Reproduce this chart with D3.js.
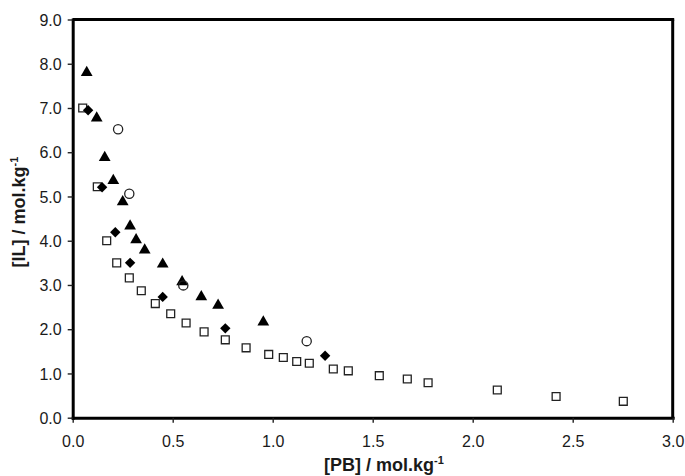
<!DOCTYPE html>
<html>
<head>
<meta charset="utf-8">
<script src="https://cdn.jsdelivr.net/npm/d3@7"></script>
<style>
  html, body { margin: 0; padding: 0; background: #fff; }
  svg { display: block; }
  text { font-family: "Liberation Sans", Arial, sans-serif; fill: #1a1a1a; }
</style>
</head>
<body>
<svg id="chart" width="685" height="476"></svg>
<script>
// Axis ticks
const xTicks = [0, 0.5, 1.0, 1.5, 2.0, 2.5, 3.0];
const yTicks = [0, 1, 2, 3, 4, 5, 6, 7, 8, 9];

// Open squares
const squareX = [0.05, 0.123, 0.17, 0.22, 0.283, 0.343, 0.413, 0.49, 0.567, 0.657, 0.763, 0.867, 0.98, 1.053, 1.12, 1.183, 1.303, 1.378, 1.533, 1.673, 1.777, 2.123, 2.417, 2.753];
const squareY = [7.0, 5.22, 4.0, 3.50, 3.16, 2.87, 2.58, 2.35, 2.14, 1.94, 1.76, 1.58, 1.43, 1.36, 1.27, 1.23, 1.10, 1.06, 0.95, 0.875, 0.79, 0.626, 0.48, 0.37];

// Filled diamonds
const diamondX = [0.077, 0.147, 0.213, 0.287, 0.45, 0.763, 1.262];
const diamondY = [6.95, 5.21, 4.19, 3.50, 2.73, 2.02, 1.40];

// Filled triangles
const triangleX = [0.07, 0.12, 0.16, 0.203, 0.25, 0.287, 0.317, 0.36, 0.45, 0.547, 0.643, 0.727, 0.953];
const triangleY = [7.80, 6.77, 5.88, 5.36, 4.88, 4.33, 4.02, 3.79, 3.47, 3.07, 2.73, 2.54, 2.16];

// Open circles
const circleX = [0.227, 0.283, 0.553, 1.17];
const circleY = [6.52, 5.06, 2.99, 1.73];

const svg = d3.select("#chart");
const plotLeft = 72.7, plotRight = 672.7, plotTop = 19.5, plotBottom = 417.7;

const x = d3.scaleLinear().domain([0, 3]).range([plotLeft, plotRight]);
const y = d3.scaleLinear().domain([0, 9]).range([plotBottom, plotTop]);

// Frame: top and right edges
svg.append("line").attr("x1", plotLeft).attr("x2", plotRight + 1.5)
  .attr("y1", plotTop).attr("y2", plotTop)
  .attr("stroke", "#000").attr("stroke-width", 3);
svg.append("line").attr("x1", plotRight).attr("x2", plotRight)
  .attr("y1", plotTop).attr("y2", plotBottom)
  .attr("stroke", "#000").attr("stroke-width", 3);

// Axes
const xAxis = svg.append("g").attr("transform", `translate(0,${plotBottom})`)
  .call(d3.axisBottom(x).tickValues(xTicks).tickFormat(d3.format(".1f")).tickSize(5).tickSizeOuter(0).tickPadding(13));
const yAxis = svg.append("g").attr("transform", `translate(${plotLeft},0)`)
  .call(d3.axisLeft(y).tickValues(yTicks).tickFormat(d3.format(".1f")).tickSize(5).tickSizeOuter(0).tickPadding(6));

[xAxis, yAxis].forEach(g => {
  g.select(".domain").attr("stroke", "#000").attr("stroke-width", 3).attr("stroke-linecap", "square");
  g.selectAll(".tick line").attr("stroke", "#222").attr("stroke-width", 1.4);
  g.selectAll(".tick text").style("font-size", "16px").style("font-family", "'Liberation Sans', Arial, sans-serif").attr("fill", "#1a1a1a");
});
yAxis.selectAll(".tick text").attr("x", -11).attr("dy", "0.35em");

const plot = svg.append("g");

function pts(xs, ys) { return xs.map((v, i) => ({ x: v, y: ys[i] })); }

// Squares
plot.selectAll("path.sq").data(pts(squareX, squareY)).join("path")
  .attr("class", "sq")
  .attr("d", d3.symbol(d3.symbolSquare, 62)())
  .attr("transform", d => `translate(${x(d.x)},${y(d.y)})`)
  .attr("fill", "#fff").attr("stroke", "#222").attr("stroke-width", 1.3);

// Diamonds
plot.selectAll("path.dm").data(pts(diamondX, diamondY)).join("path")
  .attr("class", "dm")
  .attr("d", d3.symbol(d3.symbolSquare, 54)())
  .attr("transform", d => `translate(${x(d.x)},${y(d.y)}) rotate(45)`)
  .attr("fill", "#000");

// Triangles
plot.selectAll("path.tr").data(pts(triangleX, triangleY)).join("path")
  .attr("class", "tr")
  .attr("d", d3.symbol(d3.symbolTriangle, 60)())
  .attr("transform", d => `translate(${x(d.x)},${y(d.y)})`)
  .attr("fill", "#000");

// Circles
plot.selectAll("circle.ci").data(pts(circleX, circleY)).join("circle")
  .attr("class", "ci")
  .attr("cx", d => x(d.x)).attr("cy", d => y(d.y)).attr("r", 4.6)
  .attr("fill", "none").attr("stroke", "#222").attr("stroke-width", 1.3);

// Axis titles
const xt = svg.append("text")
  .attr("x", 384).attr("y", 471)
  .attr("text-anchor", "middle")
  .style("font-size", "18px").style("font-weight", "bold");
xt.append("tspan").text("[PB] / mol.kg");
xt.append("tspan").attr("dy", -7).style("font-size", "11px").text("-1");

const yt = svg.append("text")
  .attr("transform", "translate(25,212) rotate(-90)")
  .attr("text-anchor", "middle")
  .style("font-size", "18px").style("font-weight", "bold");
yt.append("tspan").text("[IL] / mol.kg");
yt.append("tspan").attr("dy", -7).style("font-size", "11px").text("-1");
</script>
</body>
</html>
